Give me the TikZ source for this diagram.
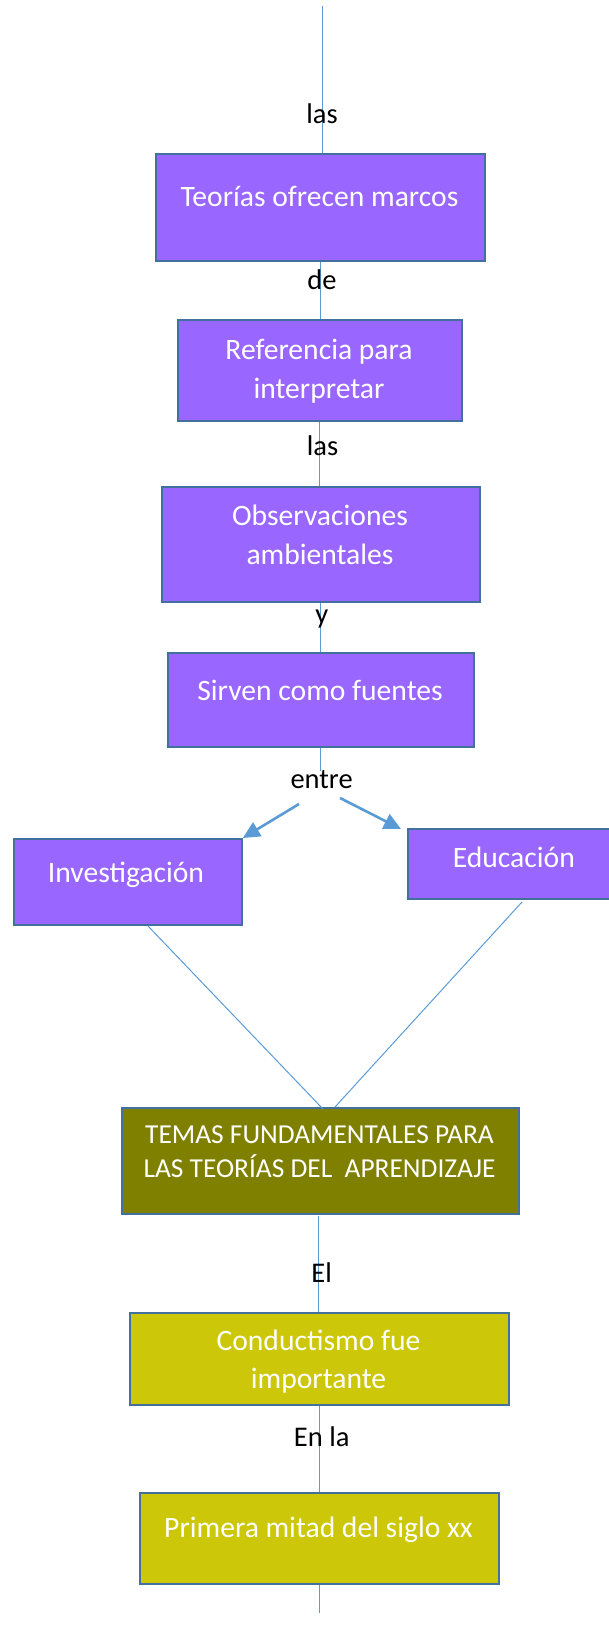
\documentclass[tikz,border=0pt]{standalone}
\usepackage{fontspec}
\setmainfont{Carlito}
\usetikzlibrary{arrows.meta,calc}
\definecolor{purp}{RGB}{153,102,255}
\definecolor{olv}{RGB}{128,128,0}
\definecolor{ylw}{RGB}{204,199,8}
\definecolor{bord}{RGB}{65,113,156}
\definecolor{lnk}{RGB}{91,155,213}
\begin{document}
\begin{tikzpicture}[x=1pt,y=-1pt,
  box/.style={draw=bord,line width=1.8pt,anchor=north west,inner sep=0pt},
  pbox/.style={box,fill=purp},
  obox/.style={box,fill=olv},
  ybox/.style={box,fill=ylw},
  btext/.style={text=white,font=\fontsize{29.6}{35}\selectfont,anchor=base,inner sep=0pt},
  ttext/.style={text=white,font=\fontsize{27.4}{32}\selectfont,anchor=base,inner sep=0pt},
  lbl/.style={text=black,font=\fontsize{28.5}{34}\selectfont,anchor=base,inner sep=0pt},
  link/.style={draw=lnk,line width=1pt},
  arr/.style={draw=lnk,line width=2.6pt,-{Triangle[length=17pt,width=16pt]}}
]
\useasboundingbox (0,0) rectangle (609,1632);

% boxes
\node[pbox,minimum width=329pt,minimum height=107pt] (b1) at (155,153) {};
\node[pbox,minimum width=284pt,minimum height=101pt] (b2) at (177,319) {};
\node[pbox,minimum width=318pt,minimum height=115pt] (b3) at (161,486) {};
\node[pbox,minimum width=306pt,minimum height=94pt] (b4) at (167,652) {};
\node[pbox,minimum width=228pt,minimum height=86pt] (inv) at (13,838) {};
\node[pbox,minimum width=214pt,minimum height=70pt] (edu) at (407,828) {};
\node[obox,minimum width=397pt,minimum height=106pt] (tem) at (121,1107) {};
\node[ybox,minimum width=379pt,minimum height=92pt] (con) at (129,1312) {};
\node[ybox,minimum width=359pt,minimum height=91pt] (pri) at (139,1492) {};

% connectors
\coordinate (ctop) at (322,6);
\draw[link] (ctop) -- (ctop |- b1.north);
\draw[link] (b1.south) -- (b1.south |- b2.north);
\draw[link] (b2.south) -- (b2.south |- b3.north);
\draw[link] (b3.south) -- (b3.south |- b4.north);
\coordinate (cent) at (320,771);
\draw[link] (b4.south) -- (b4.south |- cent);
\coordinate (al) at (299,804);
\coordinate (ar) at (340,798);
\coordinate (arT) at (401,829);
\draw[arr] (al) -- (inv.north east);
\draw[arr] (ar) -- (arT);
\coordinate (invS) at (148,926);
\coordinate (eduS) at (522,902);
\coordinate (temL) at (323,1109);
\coordinate (temR) at (335,1107);
\draw[link] (invS) -- (temL);
\draw[link] (eduS) -- (temR);
\coordinate (temB) at (318,1216);
\draw[link] (temB) -- (temB |- con.north);
\draw[link] (con.south) -- (con.south |- pri.north);
\coordinate (cbot) at (318,1613);
\draw[link] (pri.south) -- (pri.south |- cbot);

% box texts
\node[btext] (t1) at (319.5,206.7) {Teorías ofrecen marcos};
\node[btext] (t2a) at (319,359.5) {Referencia para};
\node[btext] (t2b) at (319,398.3) {interpretar};
\node[btext] (t3a) at (320,525.7) {Observaciones};
\node[btext] (t3b) at (320,564.3) {ambientales};
\node[btext] (t4) at (320,700.7) {Sirven como fuentes};
\node[btext] (tinv) at (126,882.3) {Investigación};
\node[btext] (tedu) at (513.8,867.3) {Educación};
\node[ttext] (ttema) at (319.5,1143.3) {TEMAS FUNDAMENTALES PARA};
\node[ttext] (ttemb) at (319.5,1177.7) {LAS TEORÍAS DEL\ \ APRENDIZAJE};
\node[btext] (tcona) at (318.5,1350.7) {Conductismo fue};
\node[btext] (tconb) at (318.5,1388.3) {importante};
\node[btext] (tpri) at (318.5,1537.7) {Primera mitad del siglo xx};

% labels
\node[lbl] (l1) at (322,124) {las};
\node[lbl] (l2) at (322,289) {de};
\node[lbl] (l3) at (322.5,455) {las};
\node[lbl] (l4) at (321.7,623.3) {y};
\node[lbl] (l5) at (321.6,788.3) {entre};
\node[lbl] (l6) at (321.6,1282.7) {El};
\node[lbl] (l7) at (321.7,1446.7) {En la};
\end{tikzpicture}
\end{document}
